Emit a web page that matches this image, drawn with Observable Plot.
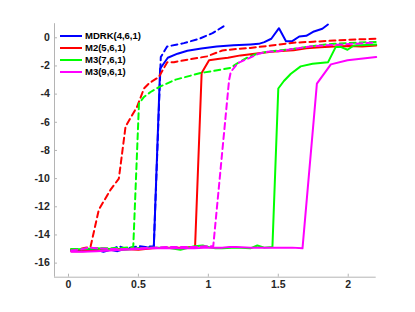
<!DOCTYPE html>
<html><head><meta charset="utf-8">
<script src="https://cdn.jsdelivr.net/npm/d3@7"></script>
<script src="https://cdn.jsdelivr.net/npm/@observablehq/plot@0.6"></script>
<style>
html,body{margin:0;padding:0;background:#fff;}
#wrap{position:relative;width:415px;height:312px;}
.legend{position:absolute;left:60px;top:29.7px;font:bold 9.5px "Liberation Sans",Arial,sans-serif;color:#000;}
.legend div{height:12px;display:flex;align-items:center;white-space:nowrap;}
.legend span.sw{display:inline-block;width:22px;height:2px;margin-right:3px;}
</style></head><body><div id="wrap"></div>
<script>
// ---- data ----
const seriesNames = ["MDRK(4,6,1)", "M2(5,6,1)", "M3(7,6,1)", "M3(9,6,1)"];
const seriesColors = ["#0000ff", "#ff0000", "#00ff00", "#ff00ff"];
const xTicks = [0, 0.5, 1, 1.5, 2];
const xTickLabels = ["0", "0.5", "1", "1.5", "2"];
const yTicks = [-16, -14, -12, -10, -8, -6, -4, -2, 0];
const yTickLabels = ["-16", "-14", "-12", "-10", "-8", "-6", "-4", "-2", "0"];

// MDRK(4,6,1)
const blueSolidX = [0.02, 0.1, 0.2, 0.25, 0.3, 0.35, 0.4, 0.5, 0.61, 0.655, 0.71, 0.78, 0.85, 0.95, 1.06, 1.18, 1.30, 1.36, 1.40, 1.45, 1.505, 1.555, 1.60, 1.65, 1.70, 1.755, 1.815, 1.855];
const blueSolidY = [-15.1, -15.05, -15.05, -15.2, -15.05, -15.15, -15.0, -14.95, -14.85, -2.2, -1.42, -1.13, -0.92, -0.76, -0.62, -0.53, -0.47, -0.43, -0.31, -0.07, 0.68, -0.24, -0.24, 0.09, 0.14, 0.45, 0.64, 0.94];
const blueDashX = [0.02, 0.1, 0.15, 0.2, 0.3, 0.36, 0.4, 0.45, 0.5, 0.55, 0.61, 0.66, 0.705, 0.825, 0.935, 1.03, 1.13];
const blueDashY = [-15.05, -15.0, -14.95, -15.0, -15.05, -14.8, -14.95, -14.9, -14.8, -14.85, -14.8, -1.37, -0.62, -0.38, -0.07, 0.33, 0.94];
// M2(5,6,1)
const redSolidX = [0.02, 0.1, 0.2, 0.3, 0.4, 0.5, 0.6, 0.7, 0.8, 0.905, 0.952, 1.005, 1.08, 1.14, 1.23, 1.36, 1.45, 1.55, 1.61, 1.7, 1.8, 1.9, 2.0, 2.1, 2.2];
const redSolidY = [-15.15, -15.15, -15.1, -15.05, -15.0, -15.05, -14.95, -14.9, -14.9, -14.85, -2.5, -1.6, -1.49, -1.42, -1.25, -1.09, -1.0, -0.92, -0.88, -0.75, -0.68, -0.62, -0.58, -0.62, -0.55];
const redDashX = [0.02, 0.08, 0.12, 0.157, 0.217, 0.30, 0.36, 0.408, 0.49, 0.54, 0.58, 0.646, 0.706, 0.754, 0.85, 0.99, 1.10, 1.2, 1.3, 1.45, 1.61, 1.75, 1.9, 2.05, 2.2];
const redDashY = [-15.0, -15.0, -14.9, -14.87, -12.2, -10.8, -10.0, -6.3, -4.9, -3.6, -3.2, -2.79, -1.73, -1.73, -1.56, -1.32, -0.9, -0.8, -0.72, -0.55, -0.35, -0.28, -0.2, -0.12, -0.07];
// M3(7,6,1)
const greenSolidX = [0.02, 0.1, 0.2, 0.3, 0.4, 0.5, 0.6, 0.7, 0.8, 0.9, 0.96, 1.0, 1.05, 1.1, 1.2, 1.3, 1.35, 1.4, 1.458, 1.50, 1.54, 1.59, 1.66, 1.745, 1.856, 1.91, 1.95, 1.995, 2.04, 2.2];
const greenSolidY = [-15.05, -15.0, -14.95, -15.0, -15.05, -14.95, -14.9, -14.9, -15.05, -14.8, -14.75, -14.85, -14.95, -14.95, -14.9, -14.95, -14.75, -14.9, -14.85, -3.6, -3.07, -2.55, -2.03, -1.84, -1.73, -0.66, -0.66, -0.85, -0.55, -0.47];
const greenDashX = [0.02, 0.1, 0.2, 0.3, 0.4, 0.463, 0.504, 0.54, 0.587, 0.647, 0.766, 0.945, 1.088, 1.16, 1.21, 1.28, 1.35, 1.42, 1.61, 1.78, 1.9, 2.05, 2.2];
const greenDashY = [-15.0, -15.0, -14.95, -14.95, -14.9, -14.87, -4.67, -4.2, -3.85, -3.5, -2.97, -2.5, -2.27, -2.13, -1.8, -1.4, -1.13, -1.0, -0.78, -0.54, -0.42, -0.35, -0.3];
// M3(9,6,1)
const magSolidX = [0.02, 0.1, 0.2, 0.3, 0.4, 0.5, 0.6, 0.7, 0.8, 0.9, 1.0, 1.1, 1.15, 1.2, 1.3, 1.4, 1.5, 1.6, 1.673, 1.776, 1.876, 1.995, 2.09, 2.2];
const magSolidY = [-15.2, -15.2, -15.15, -15.1, -15.05, -15.0, -14.95, -14.95, -14.95, -14.95, -14.9, -14.9, -14.85, -14.85, -14.9, -14.9, -14.9, -14.9, -14.95, -3.26, -1.89, -1.6, -1.49, -1.37];
const magDashX = [0.02, 0.1, 0.15, 0.2, 0.3, 0.4, 0.5, 0.6, 0.7, 0.8, 0.9, 1.0, 1.035, 1.148, 1.16, 1.21, 1.28, 1.36, 1.42, 1.5, 1.61, 1.75, 1.9, 2.05, 2.2];
const magDashY = [-15.1, -15.0, -14.9, -14.95, -15.0, -15.0, -14.95, -14.9, -14.85, -14.85, -14.85, -14.8, -14.8, -3.02, -2.43, -1.8, -1.49, -1.13, -1.0, -0.95, -0.78, -0.6, -0.5, -0.42, -0.33];

// ---- build table ----
const curves = [
  [0, true, blueDashX, blueDashY],
  [0, false, blueSolidX, blueSolidY],
  [1, true, redDashX, redDashY],
  [1, false, redSolidX, redSolidY],
  [2, true, greenDashX, greenDashY],
  [2, false, greenSolidX, greenSolidY],
  [3, true, magDashX, magDashY],
  [3, false, magSolidX, magSolidY]
];
const lineMarks = curves.map(([s, dashed, xs, ys]) =>
  Plot.line(xs.map((x, i) => ({x, y: ys[i]})), {
    x: "x", y: "y",
    stroke: seriesColors[s],
    strokeWidth: 2,
    strokeDasharray: dashed ? "6,4" : null,
    strokeLinejoin: "round"
  })
);

const font = '"Liberation Sans", Arial, sans-serif';
const plot = Plot.plot({
  width: 415, height: 312,
  marginLeft: 54, marginRight: 39.3, marginTop: 23.2, marginBottom: 35.3,
  x: {domain: [-0.1, 2.2]},
  y: {domain: [-17, 1]},
  style: {fontFamily: font, fontSize: "10.5px", fontWeight: "bold", color: "#262626", background: "#fff"},
  marks: [
    Plot.ruleX([-0.1], {stroke: "#b4b4b4"}),
    Plot.ruleY([-17], {stroke: "#b4b4b4"}),
    Plot.axisX(xTicks, {tickSize: -3, tickPadding: 6, stroke: "#b4b4b4", fill: "#262626",
      tickFormat: (d) => xTickLabels[xTicks.indexOf(d)], label: null}),
    Plot.axisY(yTicks, {tickSize: -3, tickPadding: 7.7, stroke: "#b4b4b4", fill: "#262626",
      tickFormat: (d) => yTickLabels[yTicks.indexOf(d)], label: null}),
    ...lineMarks
  ]
});
const wrap = document.getElementById("wrap");
wrap.appendChild(plot);
const leg = document.createElement("div");
leg.className = "legend";
seriesNames.forEach((n, i) => {
  const row = document.createElement("div");
  const sw = document.createElement("span");
  sw.className = "sw";
  sw.style.background = seriesColors[i];
  row.appendChild(sw);
  row.appendChild(document.createTextNode(n));
  leg.appendChild(row);
});
wrap.appendChild(leg);
</script></body></html>
